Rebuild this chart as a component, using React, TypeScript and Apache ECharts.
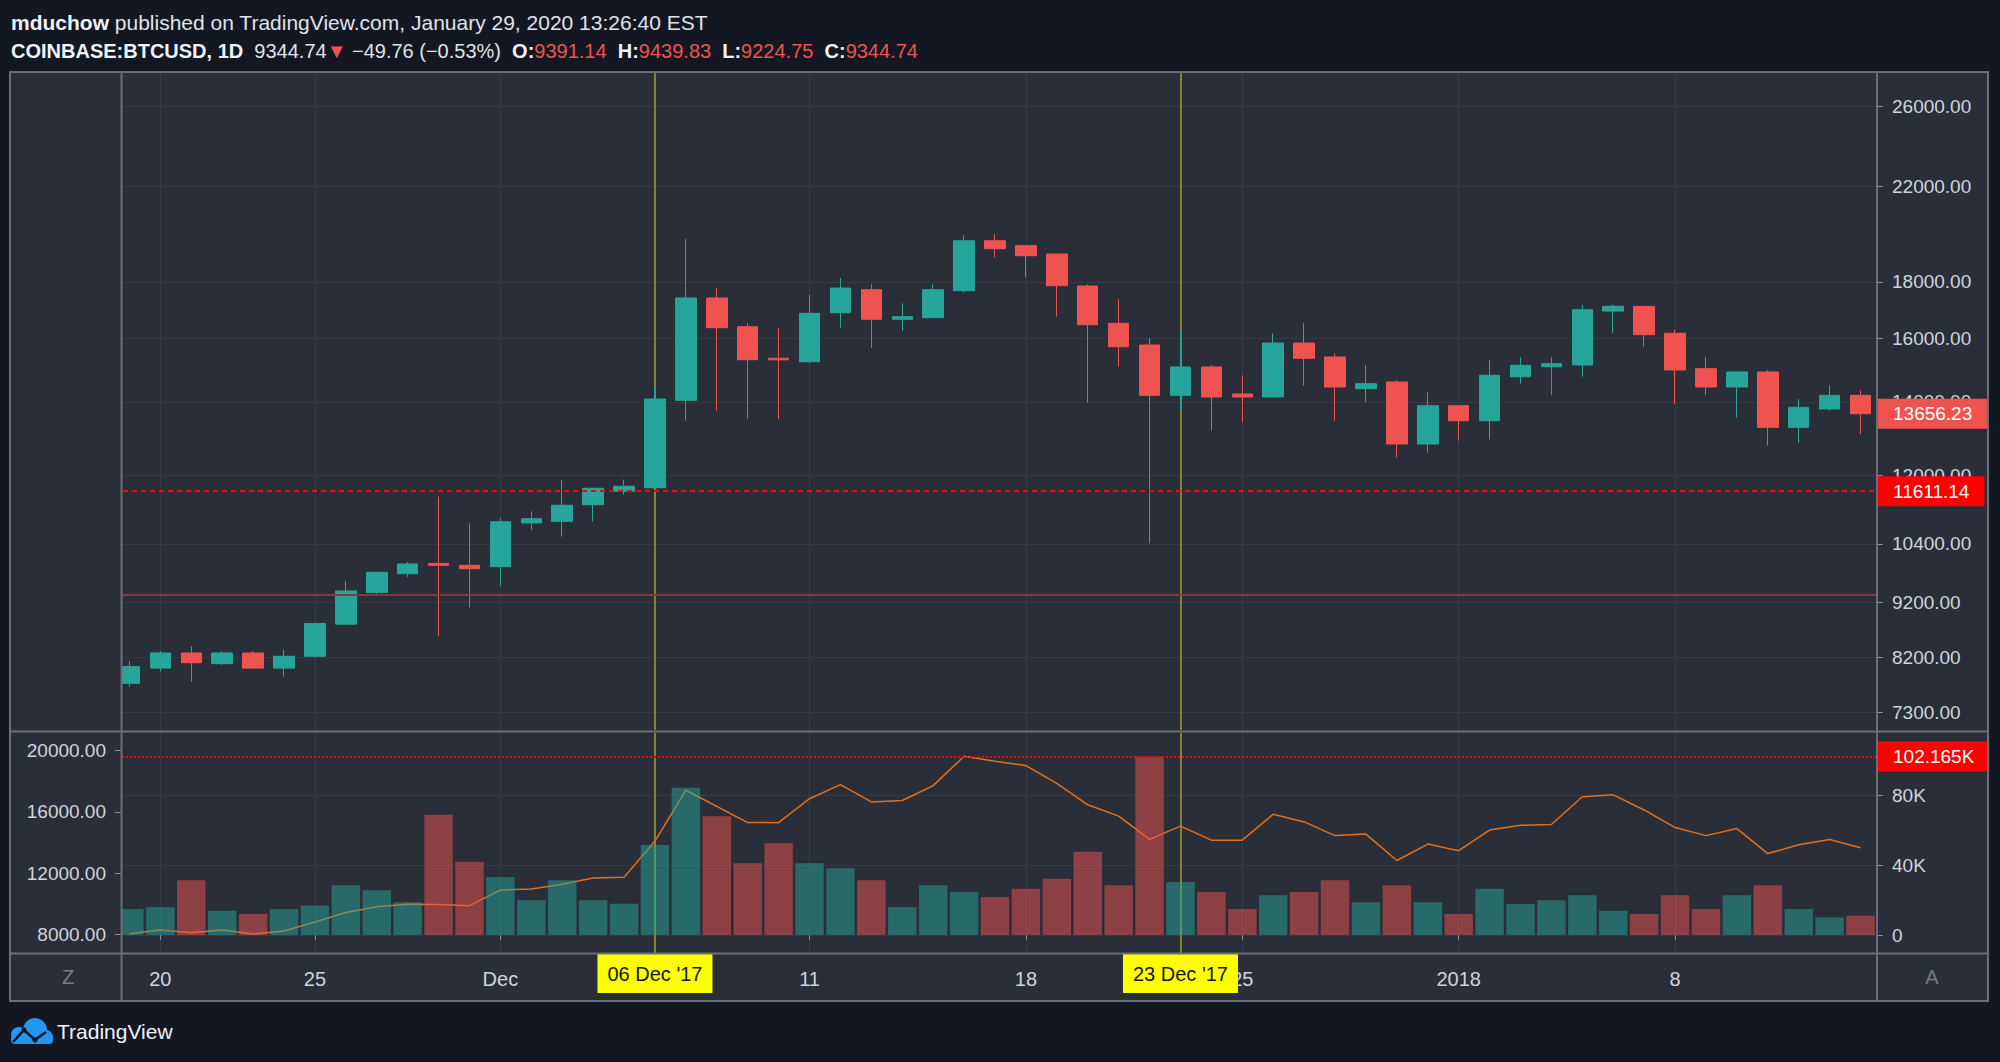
import React, { useEffect, useRef } from "react";
import * as echarts from "echarts";

// ---------- data ----------
const dates = [
  "2017-11-19", "2017-11-20", "2017-11-21", "2017-11-22", "2017-11-23", "2017-11-24", "2017-11-25",
  "2017-11-26", "2017-11-27", "2017-11-28", "2017-11-29", "2017-11-30",
  "2017-12-01", "2017-12-02", "2017-12-03", "2017-12-04", "2017-12-05", "2017-12-06", "2017-12-07",
  "2017-12-08", "2017-12-09", "2017-12-10", "2017-12-11", "2017-12-12", "2017-12-13", "2017-12-14",
  "2017-12-15", "2017-12-16", "2017-12-17", "2017-12-18", "2017-12-19", "2017-12-20", "2017-12-21",
  "2017-12-22", "2017-12-23", "2017-12-24", "2017-12-25", "2017-12-26", "2017-12-27", "2017-12-28",
  "2017-12-29", "2017-12-30", "2017-12-31",
  "2018-01-01", "2018-01-02", "2018-01-03", "2018-01-04", "2018-01-05", "2018-01-06", "2018-01-07",
  "2018-01-08", "2018-01-09", "2018-01-10", "2018-01-11", "2018-01-12", "2018-01-13", "2018-01-14",
];

const opens = [
  7763, 8015, 8273, 8090, 8273, 8015, 8216, 8788, 9392, 9767, 9980, 9940,
  9912, 10863, 10901, 11287, 11609, 11695, 14045, 17404, 16387, 15340, 15229, 16876, 17709, 16645,
  16701, 17672, 19622, 19420, 19085, 17847, 16505, 15772, 14194, 15062, 14233, 14144, 15837, 15382,
  14392, 14597, 12818,
  13889, 13457, 14757, 15069, 15125, 16934, 17103, 16165, 15008, 14443, 14904, 13272, 13793, 14194,
];
const highs = [
  8135, 8307, 8387, 8307, 8307, 8330, 8814, 9625, 9800, 10011, 11479, 10855,
  10969, 11130, 11887, 11682, 11893, 14450, 19693, 17771, 16505, 16333, 17524, 18148, 17911, 17212,
  17911, 19846, 19900, 19420, 19085, 17911, 17357, 16005, 16277, 15125, 14802, 16165, 16515, 15499,
  15114, 14657, 14292,
  13889, 15283, 15382, 15382, 17160, 17160, 17103, 16277, 15382, 14904, 14958, 14084, 14495, 14345,
];
const lows = [
  7709, 7961, 7790, 8068, 8000, 7873, 8190, 8788, 9361, 9701, 8572, 9103,
  9524, 10704, 10556, 10901, 11526, 11650, 13457, 13744, 13515, 13515, 15178, 16354, 15673, 16240,
  16701, 17597, 18951, 18159, 16737, 13989, 15069, 10410, 13744, 13180, 13413, 14144, 14495, 13457,
  13996, 12465, 12587,
  12906, 12943, 14544, 14194, 14757, 16175, 15715, 13938, 14194, 13554, 12772, 12852, 13744, 13089,
];
const closes = [
  8040, 8273, 8106, 8273, 8015, 8216, 8800, 9420, 9797, 9969, 9940, 9870,
  10891, 10960, 11274, 11682, 11731, 14084, 17404, 16354, 15293, 15290, 16853, 17771, 16645, 16737,
  17709, 19622, 19297, 19016, 17857, 16456, 15715, 14194, 15062, 14144, 14144, 15837, 15338, 14443,
  14544, 12818, 13889,
  13457, 14802, 15114, 15166, 16982, 17103, 16117, 14968, 14443, 14904, 13272, 13843, 14194, 13656.23,
];
const volumes = [
  14900, 15900, 31300, 13900, 12000, 14900, 16800, 28500, 25600, 18700, 68900, 42000,
  33200, 19900, 31300, 19900, 17900, 51500, 84400, 68000, 41100, 52500, 41100, 38200, 31300, 15900,
  28500, 24600, 21800, 26500, 32200, 47700, 28500, 102165, 30400, 24600, 14900, 22700, 24600, 31300,
  18700, 28500, 18700,
  12000, 26500, 17800, 19900, 22700, 13900, 12000, 22700, 14900, 22700, 28500, 14900, 10100, 11100,
];

const priceTicks = [7300, 8200, 9200, 10400, 12000, 14000, 16000, 18000, 22000, 26000];
const volumeTicks = [0, 40000, 80000];
const closeAxisTicks = [8000, 12000, 16000, 20000];

const tickLabelDates = ["2017-11-20", "2017-11-25", "2017-12-01", "2017-12-11", "2017-12-18", "2017-12-25", "2018-01-01", "2018-01-08"];
const tickLabelTexts = ["20", "25", "Dec", "11", "18", "25", "2018", "8"];
const markerDates = ["2017-12-06", "2017-12-23"];
const markerTexts = ["06 Dec '17", "23 Dec '17"];

const alertPrice = 11611.14;
const currentPrice = 9344.74;
const volumeMarker = 102165;

// ---------- styles ----------
const UP = "#26a69a";
const DOWN = "#ef5350";
const UP_VOL = "rgba(38,166,154,0.5)";
const DOWN_VOL = "rgba(239,83,80,0.5)";
const PANE = "#2a2e39";
const PAGE = "#131722";
const GRIDC = "#353a46";
const BORDER = "#6b6e78";
const CROSS = "#a5a22a";
const TEXT = "#d1d4dc";
const FONT = "Liberation Sans";

function buildOption() {
  const labelMap: Record<string, string> = {};
  tickLabelDates.forEach((d, i) => (labelMap[d] = tickLabelTexts[i]));
  const markerMap: Record<string, string> = {};
  markerDates.forEach((d, i) => (markerMap[d] = markerTexts[i]));

  const candleData = dates.map((_, i) => [opens[i], closes[i], lows[i], highs[i]]);
  const volData = volumes.map((v, i) => ({
    value: v,
    itemStyle: { color: closes[i] >= opens[i] ? UP_VOL : DOWN_VOL },
  }));
  const lastClose = closes[closes.length - 1];

  const verticalLines = [
    ...tickLabelDates.map((d) => ({ xAxis: d, lineStyle: { color: GRIDC, width: 1, type: "solid" } })),
    ...markerDates.map((d) => ({ xAxis: d, lineStyle: { color: CROSS, width: 1.5, type: "solid" } })),
  ];
  const vMarkLine = {
    silent: true,
    symbol: ["none", "none"],
    z: 1,
    label: { show: false },
    emphasis: { disabled: true },
    data: verticalLines,
  };
  const boxLabel = {
    show: true,
    position: "end",
    distance: 1,
    color: "#ffffff",
    fontSize: 19,
    fontFamily: FONT,
    padding: [6, 15, 5, 16],
  };

  const makeRich = (size: number) => ({
    b: { fontSize: size, fontFamily: FONT, fontWeight: "bold", fill: "#f0f3fa", color: "#f0f3fa" },
    n: { fontSize: size, fontFamily: FONT, fill: "#e1e3ea", color: "#e1e3ea" },
    r: { fontSize: size, fontFamily: FONT, fill: DOWN, color: DOWN },
  });

  return {
    animation: false,
    backgroundColor: PAGE,
    textStyle: { fontFamily: FONT },
    grid: [
      { left: 114, top: 73, width: 1762, height: 657, outerBoundsMode: "none" },
      { left: 114, top: 733, width: 1762, height: 220, outerBoundsMode: "none" },
    ],
    xAxis: [
      { type: "category", gridIndex: 0, data: dates, show: false },
      {
        type: "category",
        gridIndex: 1,
        data: dates,
        position: "bottom",
        z: 65,
        axisLine: { show: false },
        axisTick: {
          show: true,
          alignWithLabel: true,
          interval: (_i: number, v: string) => v in labelMap,
          length: 5,
          lineStyle: { color: "#8a8d96", width: 1 },
        },
        axisLabel: {
          interval: (_i: number, v: string) => v in labelMap,
          formatter: (v: string) => labelMap[v] || "",
          margin: 16,
          color: TEXT,
          fontSize: 20,
          fontFamily: FONT,
        },
        splitLine: { show: false },
      },
      {
        type: "category",
        gridIndex: 1,
        data: dates,
        position: "bottom",
        z: 70,
        axisLine: { show: false },
        axisTick: { show: false },
        splitLine: { show: false },
        axisLabel: {
          interval: (_i: number, v: string) => v in markerMap,
          formatter: (v: string) => markerMap[v] || "",
          margin: 1,
          color: "#131722",
          backgroundColor: "#ffff00",
          fontSize: 20,
          fontFamily: FONT,
          padding: [10, 10, 9, 10],
        },
      },
    ],
    yAxis: [
      {
        type: "log",
        logBase: 10,
        gridIndex: 0,
        position: "right",
        min: 7040,
        max: 27885,
        axisLine: { show: false },
        axisTick: { show: true, length: 7, customValues: priceTicks, lineStyle: { color: "#8a8d96" } },
        axisLabel: {
          customValues: priceTicks,
          formatter: (v: number) => Number(v).toFixed(2),
          color: TEXT,
          fontSize: 19,
          fontFamily: FONT,
          margin: 16,
        },
        splitLine: { show: true, lineStyle: { color: GRIDC, width: 1 } },
      },
      {
        type: "value",
        gridIndex: 1,
        position: "right",
        min: -10309,
        max: 115693,
        axisLine: { show: false },
        axisTick: { show: true, length: 7, customValues: volumeTicks, lineStyle: { color: "#8a8d96" } },
        axisLabel: {
          customValues: volumeTicks,
          formatter: (v: number) => (v === 0 ? "0" : `${Math.round(v / 1000)}K`),
          color: TEXT,
          fontSize: 19,
          fontFamily: FONT,
          margin: 16,
        },
        splitLine: { show: true, lineStyle: { color: GRIDC, width: 1 } },
      },
      {
        type: "value",
        gridIndex: 1,
        position: "left",
        offset: -7,
        z: 60,
        min: 6779,
        max: 21142,
        axisLine: { show: false },
        axisTick: { show: true, length: 6, customValues: closeAxisTicks, lineStyle: { color: "#8a8d96" } },
        axisLabel: {
          customValues: closeAxisTicks,
          formatter: (v: number) => Number(v).toFixed(2),
          color: TEXT,
          fontSize: 19,
          fontFamily: FONT,
          margin: 15,
        },
        splitLine: { show: false },
      },
    ],
    series: [
      {
        type: "line",
        name: "grid-main",
        xAxisIndex: 0,
        yAxisIndex: 0,
        data: closes,
        symbol: "none",
        silent: true,
        z: 1,
        lineStyle: { opacity: 0, width: 0 },
        markLine: vMarkLine,
      },
      {
        type: "candlestick",
        xAxisIndex: 0,
        yAxisIndex: 0,
        data: candleData,
        barWidth: 21,
        z: 2,
        itemStyle: { color: UP, color0: DOWN, borderColor: UP, borderColor0: DOWN, borderWidth: 1 },
        markLine: {
          silent: true,
          symbol: ["none", "none"],
          z: 5,
          emphasis: { disabled: true },
          label: boxLabel,
          data: [
            {
              yAxis: alertPrice,
              lineStyle: { color: "#ff0000", width: 2, type: [5, 4] },
              label: { formatter: alertPrice.toFixed(2), backgroundColor: "#ff0000" },
            },
            {
              yAxis: currentPrice,
              lineStyle: { color: "#7f3b42", width: 2, type: "solid" },
              label: { show: false },
            },
            {
              yAxis: lastClose,
              lineStyle: { color: "rgba(0,0,0,0)", width: 1, type: "solid" },
              label: { formatter: lastClose.toFixed(2), backgroundColor: DOWN, color: "#ffffff" },
            },
          ],
        },
      },
      {
        type: "line",
        name: "close",
        xAxisIndex: 1,
        yAxisIndex: 2,
        data: closes,
        symbol: "none",
        silent: true,
        z: 1,
        lineStyle: { color: "#e0701c", width: 1.5 },
        markLine: vMarkLine,
      },
      {
        type: "bar",
        name: "volume",
        xAxisIndex: 1,
        yAxisIndex: 1,
        data: volData,
        barCategoryGap: "8%",
        z: 2,
        markLine: {
          silent: true,
          symbol: ["none", "none"],
          z: 5,
          emphasis: { disabled: true },
          label: boxLabel,
          data: [
            {
              yAxis: volumeMarker,
              lineStyle: { color: "#ff0000", width: 2, type: [2, 2] },
              label: { formatter: `${(volumeMarker / 1000).toFixed(3)}K`, backgroundColor: "#ff0000" },
            },
          ],
        },
      },
    ],
    graphic: [
      { type: "rect", z: -10, shape: { x: 10, y: 72, width: 1978, height: 929 }, style: { fill: PANE } },
      { type: "rect", z: 50, shape: { x: 11, y: 73, width: 110, height: 880 }, style: { fill: PANE } },
      { type: "rect", z: 100, shape: { x: 10, y: 72, width: 1978, height: 929 }, style: { fill: "none", stroke: BORDER, lineWidth: 2 } },
      { type: "line", z: 100, shape: { x1: 121.5, y1: 72, x2: 121.5, y2: 1001 }, style: { stroke: BORDER, lineWidth: 2 } },
      { type: "line", z: 100, shape: { x1: 1877, y1: 72, x2: 1877, y2: 1001 }, style: { stroke: BORDER, lineWidth: 2 } },
      { type: "line", z: 100, shape: { x1: 10, y1: 731.5, x2: 1988, y2: 731.5 }, style: { stroke: BORDER, lineWidth: 2 } },
      { type: "line", z: 100, shape: { x1: 10, y1: 953.5, x2: 1988, y2: 953.5 }, style: { stroke: BORDER, lineWidth: 2 } },
      {
        type: "text",
        z: 100,
        x: 68,
        y: 977,
        style: { text: "Z", fill: "#787b86", fontSize: 20, fontFamily: FONT, align: "center", verticalAlign: "middle" },
      },
      {
        type: "text",
        z: 100,
        x: 1932,
        y: 977,
        style: { text: "A", fill: "#787b86", fontSize: 20, fontFamily: FONT, align: "center", verticalAlign: "middle" },
      },
      {
        type: "text",
        z: 100,
        x: 11,
        y: 22,
        style: {
          text: "{b|mduchow}{n| published on TradingView.com, January 29, 2020 13:26:40 EST}",
          rich: makeRich(21),
          fontSize: 21,
          fontFamily: FONT,
          fill: "#e1e3ea",
          verticalAlign: "middle",
        },
      },
      {
        type: "text",
        z: 100,
        x: 11,
        y: 51,
        style: {
          text:
            "{b|COINBASE:BTCUSD, 1D}{n|  9344.74}{r|▼}{n| −49.76 (−0.53%)  }{b|O:}{r|9391.14}{n|  }{b|H:}{r|9439.83}{n|  }{b|L:}{r|9224.75}{n|  }{b|C:}{r|9344.74}",
          rich: makeRich(20),
          fontSize: 20,
          fontFamily: FONT,
          fill: "#e1e3ea",
          verticalAlign: "middle",
        },
      },
      {
        type: "group",
        x: 8,
        y: 1017,
        children: [
          { type: "circle", shape: { cx: 11, cy: 18, r: 8 }, style: { fill: "#2196f3" } },
          { type: "circle", shape: { cx: 27, cy: 13, r: 12 }, style: { fill: "#2196f3" } },
          { type: "circle", shape: { cx: 38, cy: 20, r: 7 }, style: { fill: "#2196f3" } },
          { type: "rect", shape: { x: 3, y: 18, width: 42, height: 9, r: 4 }, style: { fill: "#2196f3" } },
          {
            type: "polyline",
            shape: { points: [[5, 25], [16, 13], [27, 23], [38, 15]] },
            style: { stroke: PAGE, lineWidth: 2.5, fill: null },
          },
          { type: "circle", shape: { cx: 16, cy: 13, r: 2.6 }, style: { fill: PAGE } },
          { type: "circle", shape: { cx: 27, cy: 23, r: 2.6 }, style: { fill: PAGE } },
        ],
      },
      {
        type: "text",
        x: 57,
        y: 1031,
        style: { text: "TradingView", fill: "#f0f3fa", fontSize: 21, fontFamily: FONT, verticalAlign: "middle" },
      },
    ],
  };
}

export default function App() {
  const ref = useRef<HTMLDivElement>(null);
  useEffect(() => {
    if (!ref.current) return;
    const chart = echarts.init(ref.current, null, { renderer: "svg" });
    chart.setOption(buildOption() as any);
    return () => chart.dispose();
  }, []);
  return (
    <div
      ref={ref}
      style={{ position: "fixed", left: 0, top: 0, width: 2000, height: 1062, background: PAGE }}
    />
  );
}
